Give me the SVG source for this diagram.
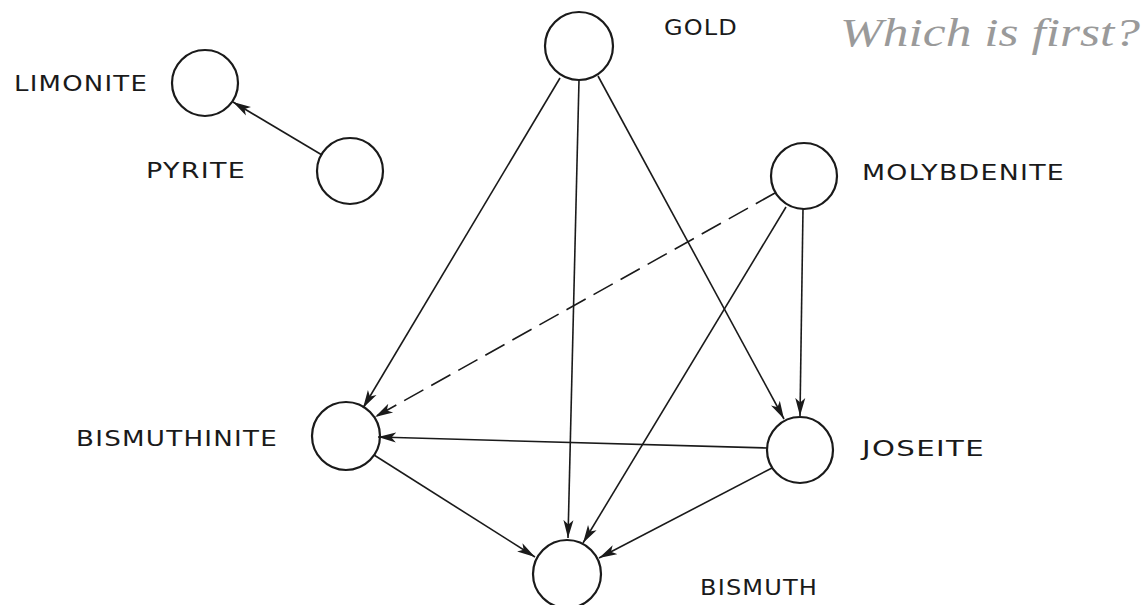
<svg xmlns="http://www.w3.org/2000/svg" width="1148" height="605" viewBox="0 0 1148 605">
<defs>
<style>
.node{fill:none;stroke:#1a1a1a;stroke-width:2.2}
.lbl{font-family:"DejaVu Sans","Liberation Sans",sans-serif;font-size:21px;fill:#1a1a1a;letter-spacing:1px}
.edge{stroke:#1a1a1a;stroke-width:1.6;fill:none;marker-end:url(#ah)}
.dash{stroke-dasharray:22 9}
.note{font-family:"Liberation Serif",serif;font-style:italic;font-size:40px;fill:#9a9a9a}
</style>
<marker id="ah" markerWidth="20" markerHeight="12" refX="18" refY="6" orient="auto" markerUnits="userSpaceOnUse">
<path d="M18,6 L0,1 L4.5,6 L0,11 Z" fill="#1a1a1a"/>
</marker>
</defs>
<rect width="1148" height="605" fill="#ffffff"/>
<g id="connectors">
<line class="edge" x1="322" y1="155" x2="233" y2="102"/>
<line class="edge" x1="560" y1="78" x2="363" y2="408"/>
<line class="edge" x1="579" y1="80" x2="568" y2="538"/>
<line class="edge" x1="598" y1="76" x2="784" y2="419"/>
<line class="edge dash" x1="775" y1="193" x2="375" y2="417"/>
<line class="edge" x1="786" y1="207" x2="583" y2="543"/>
<line class="edge" x1="803" y1="209" x2="800" y2="416"/>
<line class="edge" x1="767" y1="448" x2="378" y2="437"/>
<line class="edge" x1="772" y1="468" x2="599" y2="558"/>
<line class="edge" x1="374" y1="455" x2="535" y2="557"/>
</g>
<g id="limonite"><circle class="node" cx="205" cy="83" r="33"/><text class="lbl" x="14" y="91" textLength="134" lengthAdjust="spacingAndGlyphs">LIMONITE</text></g>
<g id="pyrite"><circle class="node" cx="350" cy="171" r="33"/><text class="lbl" x="146" y="178" textLength="100" lengthAdjust="spacingAndGlyphs">PYRITE</text></g>
<g id="gold"><circle class="node" cx="579" cy="46" r="34"/><text class="lbl" x="664" y="35" textLength="74" lengthAdjust="spacingAndGlyphs">GOLD</text></g>
<g id="molybdenite"><circle class="node" cx="804" cy="176" r="33"/><text class="lbl" x="862" y="180" textLength="203" lengthAdjust="spacingAndGlyphs">MOLYBDENITE</text></g>
<g id="bismuthinite"><circle class="node" cx="346" cy="436" r="34"/><text class="lbl" x="76" y="446" textLength="202" lengthAdjust="spacingAndGlyphs">BISMUTHINITE</text></g>
<g id="joseite"><circle class="node" cx="800" cy="450" r="33"/><text class="lbl" x="862" y="456" textLength="123" lengthAdjust="spacingAndGlyphs">JOSEITE</text></g>
<g id="bismuth"><circle class="node" cx="567" cy="574" r="34"/><text class="lbl" x="700" y="595" textLength="118" lengthAdjust="spacingAndGlyphs">BISMUTH</text></g>
<text class="note" x="840" y="46" textLength="300" lengthAdjust="spacingAndGlyphs">Which is first?</text>
</svg>
